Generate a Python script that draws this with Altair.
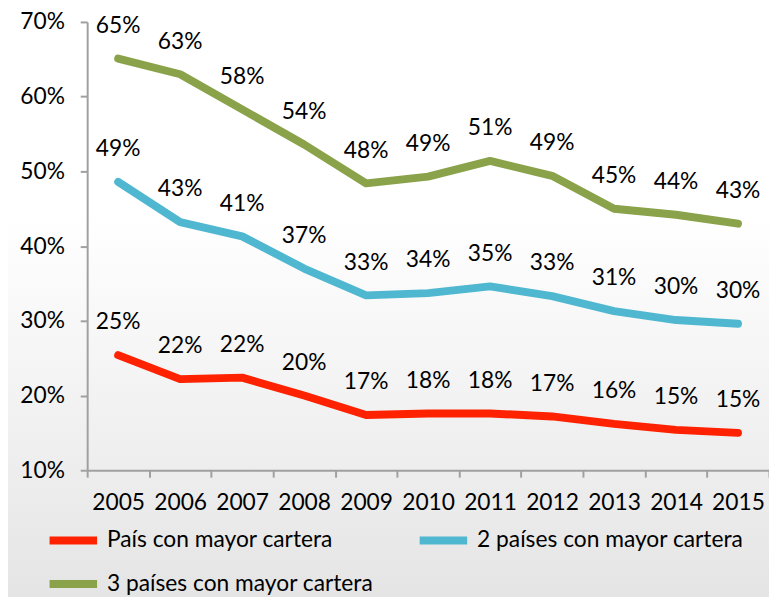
import altair as alt
import pandas as pd

years = ["2005", "2006", "2007", "2008", "2009", "2010", "2011", "2012", "2013", "2014", "2015"]
series_names = ["País con mayor cartera", "2 países con mayor cartera", "3 países con mayor cartera"]
pais_1 = [25.4, 22.2, 22.4, 20.0, 17.4, 17.6, 17.6, 17.2, 16.2, 15.4, 15.0]
paises_2 = [48.6, 43.2, 41.3, 37.0, 33.4, 33.7, 34.6, 33.3, 31.3, 30.1, 29.6]
paises_3 = [65.1, 63.0, 58.3, 53.6, 48.4, 49.3, 51.4, 49.4, 45.0, 44.2, 43.0]
colors = ["#FF2200", "#4FB8D0", "#8AA34A"]
y_ticks = [10, 20, 30, 40, 50, 60, 70]

rows = []
for name, vals in zip(series_names, [pais_1, paises_2, paises_3]):
    for y, v in zip(years, vals):
        rows.append({"year": y, "value": v, "serie": name})
df = pd.DataFrame(rows)

W, H = 689, 453
FONT = "Lato"
FS = 23

bg = alt.Chart(pd.DataFrame({"a": [0]})).mark_rect(
    color=alt.LinearGradient(
        gradient="linear",
        stops=[alt.GradientStop(color="#ffffff", offset=0),
               alt.GradientStop(color="#ffffff", offset=0.35),
               alt.GradientStop(color="#e4e4e4", offset=1)],
        x1=0, x2=0, y1=0, y2=1,
    )
).encode(
    x=alt.value(-90), x2=alt.value(W + 20),
    y=alt.value(-20), y2=alt.value(H + 140),
)

x_enc = alt.X("year:N", sort=years, bandPosition=0.5,
              scale=alt.Scale(type="band", paddingInner=0, paddingOuter=0),
              axis=alt.Axis(title=None, labelAngle=0, tickBand="extent", zindex=1,
                            labelFontSize=FS, labelFont=FONT, labelColor="#000000",
                            labelPadding=15, tickSize=7, tickColor="#a0a0a0",
                            tickWidth=2, domainColor="#a0a0a0", domainWidth=2))
y_enc = alt.Y("value:Q",
              scale=alt.Scale(domain=[10, 70], nice=False, zero=False),
              axis=alt.Axis(title=None, values=y_ticks, labelExpr="datum.value + '%'",
                            grid=False, labelFontSize=FS, labelFont=FONT, zindex=1,
                            labelColor="#000000", labelPadding=16, tickSize=7,
                            tickColor="#a0a0a0", tickWidth=2,
                            domainColor="#a0a0a0", domainWidth=2))

lines = alt.Chart(df).mark_line(strokeWidth=8, strokeCap="round", strokeJoin="round").encode(
    x=x_enc, y=y_enc,
    color=alt.Color("serie:N", sort=series_names,
                    scale=alt.Scale(domain=series_names, range=colors),
                    legend=alt.Legend(title=None, orient="none", legendX=-42, legendY=496,
                                      direction="horizontal", zindex=1,
                                      columns=2, columnPadding=30, rowPadding=0,
                                      symbolType="stroke", symbolSize=2304,
                                      symbolStrokeWidth=8, labelFontSize=FS,
                                      labelFont=FONT, labelColor="#000000",
                                      labelOffset=6, labelLimit=400)),
)

labels = alt.Chart(df).transform_calculate(
    label="format(datum.value, '.0f') + '%'"
).mark_text(fontSize=FS, font=FONT, color="#000000", dy=-33).encode(
    x=alt.X("year:N", sort=years, bandPosition=0.5),
    y="value:Q",
    text="label:N",
)

chart = alt.layer(bg, lines, labels).properties(
    width=W, height=H,
    autosize=alt.AutoSizeParams(type="none"),
    padding={"left": 80, "top": 11, "right": 0, "bottom": 125},
).configure_view(stroke=None)

chart.save("out.html", embed_options={"renderer": "svg", "actions": False})
